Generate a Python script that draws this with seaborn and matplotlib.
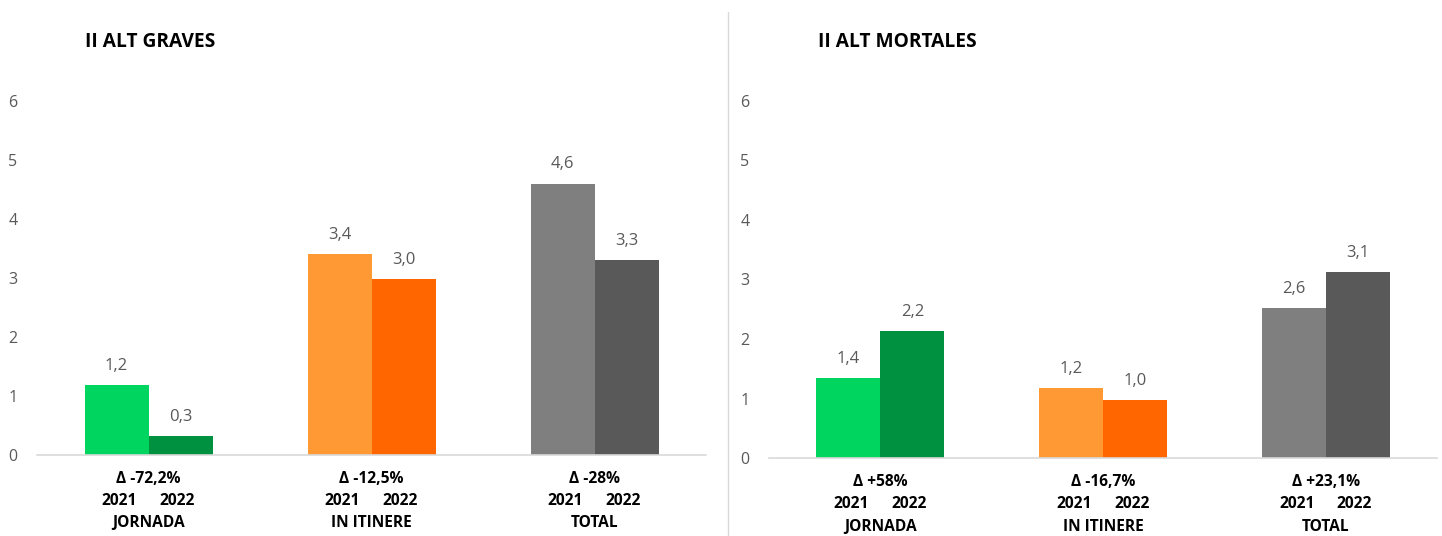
import matplotlib
matplotlib.use('Agg')
import matplotlib.pyplot as plt
import matplotlib.transforms as mtransforms
from matplotlib.lines import Line2D
import pandas as pd
import seaborn as sns

# data
categories = ['JORNADA', 'IN ITINERE', 'TOTAL']
years = ['2021', '2022']

graves_2021 = [1.18, 3.40, 4.60]
graves_2022 = [0.32, 2.98, 3.30]
graves_labels_2021 = ['1,2', '3,4', '4,6']
graves_labels_2022 = ['0,3', '3,0', '3,3']
graves_delta = ['Δ -72,2%', 'Δ -12,5%', 'Δ -28%']

mortales_2021 = [1.35, 1.17, 2.52]
mortales_2022 = [2.13, 0.97, 3.12]
mortales_labels_2021 = ['1,4', '1,2', '2,6']
mortales_labels_2022 = ['2,2', '1,0', '3,1']
mortales_delta = ['Δ +58%', 'Δ -16,7%', 'Δ +23,1%']

colors_2021 = ['#00D65F', '#FF9933', '#7F7F7F']
colors_2022 = ['#009140', '#FF6600', '#595959']

sns.set_theme(style='white')
plt.rcParams['font.family'] = ['Open Sans', 'DejaVu Sans']

fig = plt.figure(figsize=(14.42, 5.36), dpi=100)
ax_l = fig.add_axes([0.0257, 0.151, 0.4639, 0.6606])
ax_r = fig.add_axes([0.5333, 0.1455, 0.4632, 0.6661])


def draw_panel(ax, title, v21, v22, lab21, lab22, deltas, title_x):
    df = pd.DataFrame({
        'cat': categories * 2,
        'year': [years[0]] * 3 + [years[1]] * 3,
        'val': v21 + v22,
    })
    sns.barplot(data=df, x='cat', y='val', hue='year', order=categories,
                hue_order=years, width=0.574, ax=ax, legend=False,
                errorbar=None, saturation=1, linewidth=0)
    for i, cont in enumerate(ax.containers):
        cols = colors_2021 if i == 0 else colors_2022
        for bar, c in zip(cont, cols):
            bar.set_facecolor(c)
            bar.set_edgecolor('none')
        labs = lab21 if i == 0 else lab22
        ax.bar_label(cont, labels=labs, padding=8, color='#595959', fontsize=12)

    ax.set_ylim(0, 6)
    ax.set_xlim(-0.5, 2.5)
    ax.set_yticks(range(0, 7))
    ax.tick_params(axis='y', length=0, labelsize=11.5, labelcolor='#595959', pad=14)
    ax.set_xticks([])
    ax.set_xlabel('')
    ax.set_ylabel('')
    for s in ['top', 'right', 'left']:
        ax.spines[s].set_visible(False)
    ax.spines['bottom'].set_color('#D9D9D9')
    ax.spines['bottom'].set_linewidth(1.2)

    trans = mtransforms.blended_transform_factory(ax.transData, ax.transAxes)
    txt = dict(transform=trans, ha='center', va='center', fontsize=11.2,
               fontweight='bold', color='black')
    for k, cat in enumerate(categories):
        ax.text(k, -0.068, deltas[k], **txt)
        ax.text(k - 0.13, -0.13, years[0], **txt)
        ax.text(k + 0.13, -0.13, years[1], **txt)
        ax.text(k, -0.193, cat, **txt)

    fig.text(title_x, 1 - 42 / 536, title, ha='left', va='center',
             fontsize=13.8, fontweight='bold', color='black')


draw_panel(ax_l, 'II ALT GRAVES', graves_2021, graves_2022,
           graves_labels_2021, graves_labels_2022, graves_delta, 85 / 1442)
draw_panel(ax_r, 'II ALT MORTALES', mortales_2021, mortales_2022,
           mortales_labels_2021, mortales_labels_2022, mortales_delta, 818 / 1442)

fig.add_artist(Line2D([728 / 1442, 728 / 1442], [0, 1 - 12 / 536],
                      transform=fig.transFigure, color='#D9D9D9', linewidth=1))

fig.savefig('out.png', dpi=100)
